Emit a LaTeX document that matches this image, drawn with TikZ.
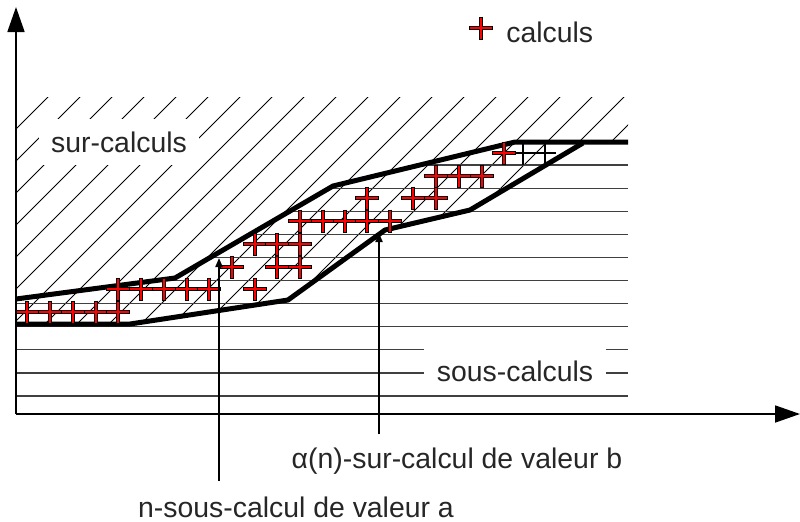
\documentclass[tikz,border=0pt]{standalone}
\usepackage{fontspec}
\setmainfont{Liberation Sans}
\usetikzlibrary{arrows.meta}

\tikzset{
  calcul/.pic={
    \draw[line width=2.3pt] (-12,0) -- (12,0) (0,-11.5) -- (0,11.5);
    \draw[red,line width=1.4pt] (-11,0) -- (11,0) (0,-10.5) -- (0,10.5);
  },
  lbl/.style={text=black!85,font=\fontsize{14.2}{17}\selectfont,inner sep=0pt},
  bord/.style={line width=2.5pt,line join=round},
  fleche/.style={line width=1pt,-{Triangle[length=4.5pt,width=3.5pt]}},
  axe/.style={line width=0.9pt,-{Triangle[length=12.5pt,width=8.5pt]}},
}

\begin{document}
\begin{tikzpicture}[x=0.5pt,y=-0.5pt]
  \useasboundingbox (0,0) rectangle (800,521);
  % hachures obliques : sur-calculs
  \begin{scope}
    \clip (16,97) -- (628,97) -- (628,142) -- (583,143) -- (470,210) -- (385,230)
      -- (288,300) -- (130,324) -- (16,324) -- cycle;
    \foreach \c in {113,145,...,977} \draw[line width=0.5pt] (\c-450,450) -- (\c-90,90);
  \end{scope}
  % hachures horizontales : sous-calculs
  \begin{scope}
    \clip (16,299) -- (175,278) -- (333,186) -- (515,142) -- (628,142) -- (628,414)
      -- (16,414) -- cycle;
    \foreach \k in {0,...,10} \draw[line width=0.6pt,black!75] (16,165+23.1*\k) -- (628,165+23.1*\k);
  \end{scope}
  \node[lbl,fill=white,minimum width=80pt,minimum height=23pt] (sur) at (119,142) {sur-calculs};
  \node[lbl,fill=white,minimum width=91pt,minimum height=24pt] (sous) at (515,371) {sous-calculs};
  % bornes
  \draw[bord] (16,299) -- (175,278) -- (333,186) -- (515,142) -- (628,142);
  \draw[bord] (16,324) -- (130,324) -- (288,300) -- (385,230) -- (470,210) -- (583,143);
  \draw[line width=0.7pt] (515,153) -- (556,153) (523,142) -- (523,165) (545,142) -- (545,165);
  % calculs
  \foreach \x/\y in {27/312,50/312,73/312,96/312,118/312,
      118/289,141/289,164/289,187/289,209/289,255/289,
      232/267,277/267,300/267,255/244,277/244,300/244,
      300/221,323/221,345/221,367/221,390/221,
      367/198,413/198,436/198,436/176,459/176,482/176,504/153}
    \pic at (\x,\y) {calcul};
  % axes
  \coordinate (O) at (16,414);
  \coordinate (ytop) at (16,7);
  \coordinate (xend) at (800,414);
  \draw[axe] (O) -- (ytop);
  \draw[axe] (O) -- (xend);
  % legende
  \pic at (481,28) {calcul};
  \node[lbl,anchor=west] (leg) at (506,32) {calculs};
  % valeurs a et b
  \coordinate (tipA) at (219,258);
  \coordinate (tipB) at (379,233);
  \node[lbl] (lblB) at (457,461) {α(n)-sur-calcul de valeur b};
  \node[lbl] (lblA) at (296,507) {n-sous-calcul de valeur a};
  \draw[fleche,shorten <=7.5pt] (lblA.north -| tipA) -- (tipA);
  \draw[fleche,shorten <=6.5pt] (lblB.north -| tipB) -- (tipB);
\end{tikzpicture}
\end{document}
